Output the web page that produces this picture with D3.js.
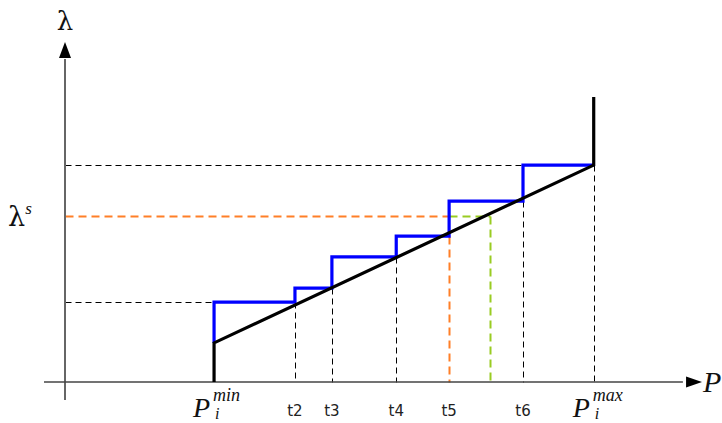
<!DOCTYPE html>
<html><head><meta charset="utf-8">
<script src="https://cdn.jsdelivr.net/npm/d3@7"></script>
<style>body{margin:0;background:#fff}svg{display:block}</style>
</head><body>
<script>
// Data (abstract units: P on 0..100, lambda on 0..100)
const pMin = 23.4, pMax = 83.0;
const tNames = ["t2","t3","t4","t5","t6"];
const tValues = [36.1, 41.9, 52.0, 60.3, 71.9];
const greenP = 66.7;
const lineStart = 11.5, lineEnd = 63.8, lineTop = 83.8;
const stepBreaks = [pMin, 36.1, 41.9, 52.0, 60.3, 71.9, pMax];
const stepLevels = [23.5, 27.6, 36.8, 42.9, 53.2, 63.8];
const lambdaS = 48.8;

const W = 722, H = 423;
const svg = d3.select("body").append("svg").attr("width", W).attr("height", H);
const x = d3.scaleLinear().domain([0, 100]).range([65, 702]);
const y = d3.scaleLinear().domain([0, 100]).range([382, 42]);
const snap = v => Math.round(v) + 0.5;

const dash = "6,4";
function seg(x1, y1, x2, y2, color, w, da) {
  svg.append("line").attr("x1", snap(x(x1))).attr("y1", snap(y(y1))).attr("x2", snap(x(x2))).attr("y2", snap(y(y2)))
    .attr("stroke", color).attr("stroke-width", w).attr("stroke-dasharray", da || null);
}

// dashed guide lines
seg(0, lineEnd, pMax, lineEnd, "#000", 1, dash);
seg(0, stepLevels[0], pMin, stepLevels[0], "#000", 1, dash);
[0,1,2,4].forEach(i => seg(tValues[i], stepLevels[i], tValues[i], 0, "#000", 1, dash));
seg(pMax, lineEnd, pMax, 0, "#000", 1, dash);
seg(0, lambdaS, tValues[3], lambdaS, "#ff7f27", 2, "8,5");
seg(tValues[3], lambdaS, greenP, lambdaS, "#99cc22", 2, "8,5");
seg(tValues[3], stepLevels[3], tValues[3], 0, "#ff7f27", 2, "8,5");
seg(greenP, lambdaS, greenP, 0, "#99cc22", 2, "8,5");

// axes
svg.append("line").attr("x1", x(0)).attr("y1", 400).attr("x2", x(0)).attr("y2", y(95)).attr("stroke", "#666").attr("stroke-width", 2);
svg.append("line").attr("x1", 44).attr("y1", y(0)).attr("x2", x(97)).attr("y2", y(0)).attr("stroke", "#444").attr("stroke-width", 1.5);
svg.append("path").attr("d", `M${x(0)},${y(100)} L${x(0)-6},${y(95.3)} L${x(0)+6},${y(95.3)} Z`).attr("fill", "#000");
svg.append("path").attr("d", `M${x(100)},${y(0)} L${x(97.5)},${y(0)-5.5} L${x(97.5)},${y(0)+5.5} Z`).attr("fill", "#000");

// blue step
let pts = [[pMin, lineStart]];
stepLevels.forEach((lv, i) => { pts.push([stepBreaks[i], lv]); pts.push([stepBreaks[i+1], lv]); });
svg.append("path").attr("d", d3.line().x(d => x(d[0])).y(d => y(d[1]))(pts))
  .attr("fill", "none").attr("stroke", "#0000ff").attr("stroke-width", 3.2);

// black supply curve
const blk = [[pMin, 0], [pMin, lineStart], [pMax, lineEnd], [pMax, lineTop]];
svg.append("path").attr("d", d3.line().x(d => x(d[0])).y(d => y(d[1]))(blk))
  .attr("fill", "none").attr("stroke", "#000").attr("stroke-width", 3.2).attr("stroke-linejoin", "miter");

// labels
const serif = "'DejaVu Serif', 'Liberation Serif', serif";
const lserif = "'Liberation Serif', 'DejaVu Serif', serif";
svg.append("text").attr("x", x(0)).attr("y", 30).attr("text-anchor", "middle")
  .style("font-family", serif).style("font-size", "26px").attr("fill", "#111").text("λ");
const ls = svg.append("text").attr("x", 8).attr("y", 226).style("font-family", serif).style("font-size", "27px").attr("fill", "#111");
ls.append("tspan").text("λ");
ls.append("tspan").attr("dy", -12).style("font-family", lserif).style("font-size", "17px").style("font-style", "italic").text("s");
svg.append("text").attr("x", 703).attr("y", 392).style("font-family", lserif).style("font-size", "30px").style("font-style", "italic").attr("fill", "#111").text("P");

function pLabel(px, sup) {
  const g = svg.append("g").style("font-family", lserif).attr("fill", "#111");
  g.append("text").attr("x", px - 21).attr("y", 417).style("font-size", "28px").style("font-style", "italic").text("P");
  g.append("text").attr("x", px - 1).attr("y", 401).style("font-size", "18px").style("font-style", "italic").text(sup);
  g.append("text").attr("x", px + 1).attr("y", 419).style("font-size", "16px").style("font-style", "italic").text("i");
}
pLabel(x(pMin), "min");
pLabel(x(pMax), "max");

svg.selectAll("text.t").data(tNames).join("text").attr("class", "t")
  .attr("x", (d, i) => x(tValues[i])).attr("y", 416).attr("text-anchor", "middle")
  .style("font-family", "'DejaVu Sans', sans-serif").style("font-size", "15px").attr("fill", "#222").text(d => d);
</script>
</body></html>
